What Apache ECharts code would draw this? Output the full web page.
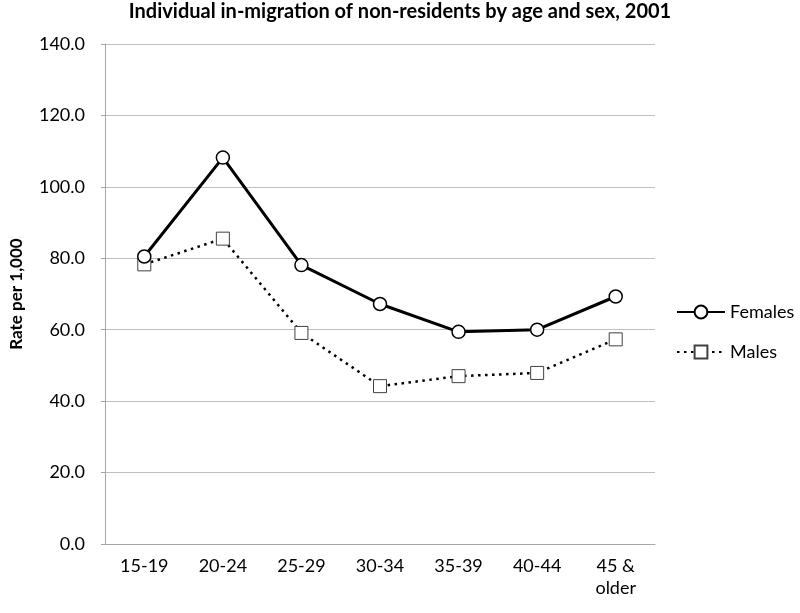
<!DOCTYPE html>
<html><head><meta charset="utf-8">
<script src="https://cdn.jsdelivr.net/npm/echarts@6/dist/echarts.min.js"></script>
<style>html,body{margin:0;padding:0;background:#fff}#c{width:800px;height:613px}</style>
</head><body><div id="c"></div>
<script>
var categories = ['15-19','20-24','25-29','30-34','35-39','40-44','45 &\nolder'];
var females = [80.5, 108.2, 78.1, 67.2, 59.4, 60.0, 69.3];
var males = [78.3, 85.5, 59.1, 44.2, 47.0, 47.9, 57.3];
var yTicks = {min: 0, max: 140, interval: 20};
var titleText = 'Individual in-migration of non-residents by age and sex, 2001';
var yName = 'Rate per 1,000';

var font = 'Lato';
var chart = echarts.init(document.getElementById('c'), null, {renderer: 'canvas'});
chart.setOption({
  animation: false,
  backgroundColor: '#fff',
  title: {text: titleText, left: 'center', top: 0, padding: [2, 0, 0, 0],
    textStyle: {fontFamily: font, fontSize: 20, fontWeight: 'bold', color: '#000'}},
  grid: {left: 104, right: 145, top: 44, bottom: 69},
  legend: {
    orient: 'vertical', left: 676, top: 303, itemGap: 22, padding: 0,
    itemWidth: 48, itemHeight: 16,
    textStyle: {fontFamily: font, fontSize: 18, color: '#000'},
    data: ['Females', 'Males']
  },
  xAxis: {
    type: 'category', data: categories, boundaryGap: true,
    axisLine: {lineStyle: {color: '#a6a6a6', width: 1}},
    axisTick: {show: false},
    axisLabel: {fontFamily: font, fontSize: 18, color: '#000', margin: 11, lineHeight: 22}
  },
  yAxis: {
    type: 'value', min: yTicks.min, max: yTicks.max, interval: yTicks.interval,
    name: yName, nameLocation: 'middle', nameGap: 80, nameRotate: 90,
    nameTextStyle: {fontFamily: font, fontSize: 17, fontWeight: 'bold', color: '#000'},
    axisLine: {show: true, lineStyle: {color: '#a6a6a6', width: 1}},
    axisTick: {show: true, length: 4, lineStyle: {color: '#a6a6a6'}},
    splitLine: {lineStyle: {color: '#bfbfbf', width: 1}},
    axisLabel: {fontFamily: font, fontSize: 18, color: '#000', margin: 20,
      formatter: function (v) { return v.toFixed(1); }}
  },
  series: [
    {name: 'Females', type: 'line', data: females,
      symbol: 'circle', symbolSize: 13,
      lineStyle: {color: '#000', width: 3},
      itemStyle: {color: '#fff', borderColor: '#000', borderWidth: 1.5}},
    {name: 'Males', type: 'line', data: males,
      symbol: 'rect', symbolSize: 13,
      lineStyle: {color: '#000', width: 2.5, type: [2.5, 4.5]},
      itemStyle: {color: '#fff', borderColor: '#404040', borderWidth: 1}, z: 1}
  ]
});
</script></body></html>
